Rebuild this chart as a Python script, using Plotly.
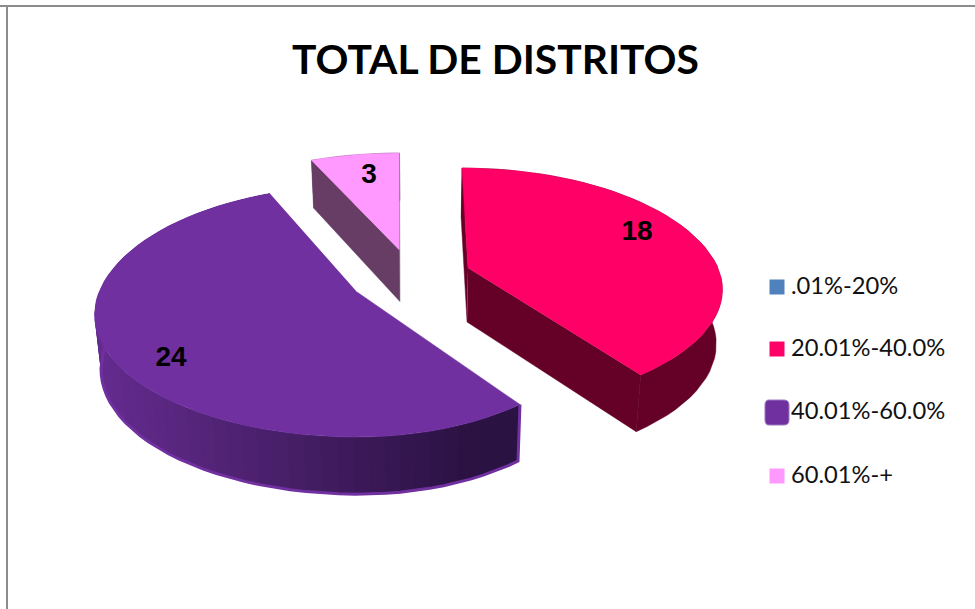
import math
import plotly.graph_objects as go

# ---- data ----
categories = [".01%-20%", "20.01%-40.0%", "40.01%-60.0%", "60.01%-+"]
values = [0, 18, 24, 3]
title_text = "TOTAL DE DISTRITOS"

# ---- style ----
top_colors = ["#4F81BD", "#FF0066", "#7030A0", "#FF99FF"]
wall_colors = ["#2F4D71", "#650027", None, "#673D66"]
GRAD_L, GRAD_R = (100, 43, 142), (42, 18, 66)

# ---- geometry of the tilted, exploded pie (canvas pixels) ----
apex = {1: (468, 268), 2: (357, 292), 3: (399.5, 250)}
rx_right = {1: 250.0, 2: 236.0, 3: 250.0}
rx_left = {1: 250.0, 2: 258.0, 3: 253.0}
ry_back = {1: 118.4, 2: 126.0, 3: 114.8}
ry_front = {1: 112.5, 2: 118.4, 3: 118.4}
skew = {1: -6.0, 2: 3.0, 3: 0.0}
wall_h = {1: 54.0, 2: 54.0, 3: 51.5}
K = 0.184                         # perspective strength
VX, S = 420.0, 0.98               # vanishing x, scale of the lower rim


def top(i, theta, r=1.0):
    ox, oy = apex[i]
    X, Y = r * math.sin(theta), r * math.cos(theta)
    w = 1 + K * Y
    a = rx_right[i] if X >= 0 else rx_left[i]
    b = ry_back[i] if Y >= 0 else ry_front[i]
    return ox + a * X / w + skew[i] * max(Y, 0.0), oy - b * Y / w


def low(i, theta, r=1.0):
    ox, oy = apex[i]
    x, y = top(i, theta, r)
    Y = r * math.cos(theta)
    return VX + S * (x - VX), oy + (wall_h[i] - 6 * Y) + S * (y - oy)


def poly(fig, pts, color, lw=0.0):
    fig.add_trace(go.Scatter(
        x=[p[0] for p in pts], y=[p[1] for p in pts], mode="lines", fill="toself",
        fillcolor=color, line=dict(color=color, width=lw),
        hoverinfo="skip", showlegend=False))


def lerp(t):
    t = max(0.0, min(1.0, t))
    c = [round(a + (b - a) * t) for a, b in zip(GRAD_L, GRAD_R)]
    return "rgb(%d,%d,%d)" % tuple(c)


fig = go.Figure()
total = sum(values)
start = 0.0
for i, v in enumerate(values):
    if v == 0:
        continue
    a0, a1 = start, start + 2 * math.pi * v / total
    start = a1
    n = max(4, int((a1 - a0) / math.radians(3)))
    th = [a0 + (a1 - a0) * j / n for j in range(n + 1)]

    if wall_colors[i]:
        # uniform wall: one solid outline of the whole side
        for a in (a0, a1):
            poly(fig, [top(i, a, 0), top(i, a), low(i, a), low(i, a, 0)], wall_colors[i], 0.5)
        poly(fig, [top(i, a) for a in th] + [low(i, a) for a in reversed(th)], wall_colors[i], 0.5)
    else:
        # gradient wall: overlapping strips, drawn so each one covers the last seam
        for j in range(n):
            p, q = th[j], th[min(j + 2, n)]
            xm = (top(i, th[j])[0] + top(i, th[j + 1])[0]) / 2
            poly(fig, [top(i, p), top(i, q), low(i, q), low(i, p)], lerp((xm - 100) / 370))
        rim = [top(i, a0)] + [low(i, a) for a in th if a < math.radians(278)]
        fig.add_trace(go.Scatter(
            x=[p[0] for p in rim], y=[p[1] for p in rim], mode="lines",
            line=dict(color=top_colors[i], width=3),
            hoverinfo="skip", showlegend=False))
    # top face
    poly(fig, [apex[i]] + [top(i, a) for a in th], top_colors[i], 0.5)

# value labels
label_xy = {1: (637, 233), 2: (171, 359), 3: (369, 176)}
fig.add_trace(go.Scatter(
    x=[label_xy[i][0] for i in label_xy], y=[label_xy[i][1] for i in label_xy],
    text=[str(values[i]) for i in label_xy], mode="text", textposition="middle center",
    textfont=dict(family="Liberation Sans", size=28, color="#000000"),
    texttemplate="<b>%{text}</b>", hoverinfo="skip", showlegend=False))

# legend
legend_y = [287, 349, 412, 476]
for i, y in enumerate(legend_y):
    fig.add_trace(go.Scatter(
        x=[777], y=[y], mode="markers",
        marker=dict(symbol="square", size=15, color=top_colors[i], line=dict(width=0)),
        hoverinfo="skip", showlegend=False))
fig.add_trace(go.Scatter(
    x=[791] * 4, y=[y + 1 for y in legend_y], text=categories, mode="text", textposition="middle right",
    textfont=dict(family="Lato", size=23.7, color="#111111"), hoverinfo="skip", showlegend=False))

shapes = [
    dict(type="line", x0=0, x1=975, y0=6, y1=6, line=dict(color="#8c8c8c", width=2)),
    dict(type="line", x0=7, x1=7, y0=6, y1=609, line=dict(color="#8c8c8c", width=2)),
    dict(type="path", layer="above",
         path="M 769 400 L 784 400 Q 789 400 789 405 L 789 420 Q 789 425 784 425 L 769 425 "
              "Q 765 425 765 420 L 765 405 Q 765 400 769 400 Z",
         fillcolor=top_colors[2], line=dict(color="#9a78c0", width=1)),
]

fig.update_layout(
    width=975, height=609, margin=dict(l=0, r=0, t=0, b=0),
    paper_bgcolor="white", plot_bgcolor="white", showlegend=False, shapes=shapes,
    xaxis=dict(range=[0, 975], visible=False, fixedrange=True),
    yaxis=dict(range=[609, 0], visible=False, fixedrange=True),
    annotations=[dict(x=495.5, y=58, xref="x", yref="y", text="<b>%s</b>" % title_text, showarrow=False,
                      font=dict(family="Lato", size=40.8, color="#000000"))],
)
fig.write_html("out.html", config=dict(displayModeBar=False),
               post_script="document.body.style.margin='0';")
